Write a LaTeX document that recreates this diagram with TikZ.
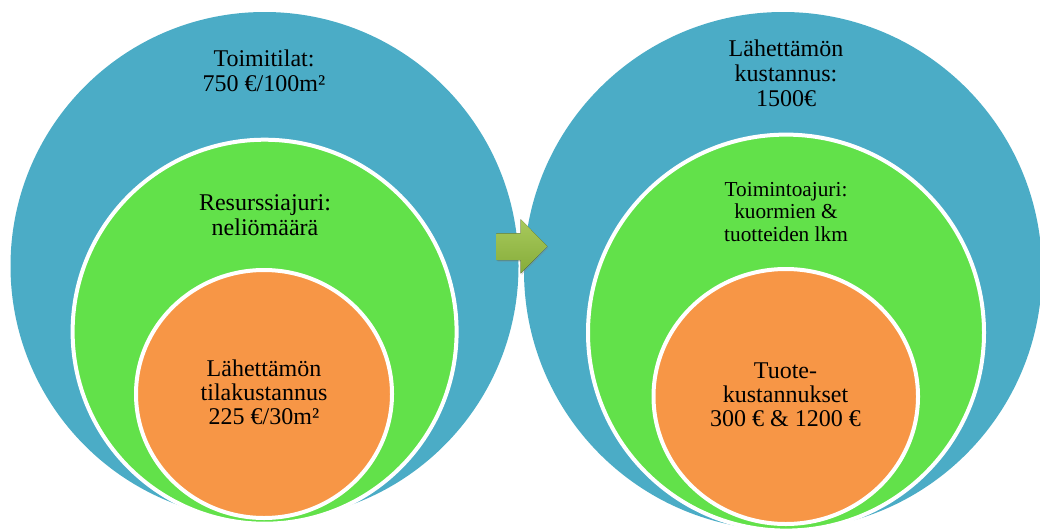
\documentclass[tikz,border=0pt]{standalone}
\usepackage{fontspec}
\setmainfont{Liberation Serif}
\usetikzlibrary{shapes.geometric,shadows}
\definecolor{cblue}{RGB}{75,172,198}
\definecolor{cgreen}{RGB}{98,225,74}
\definecolor{corange}{RGB}{247,150,70}
\definecolor{arrowtop}{RGB}{168,202,92}
\definecolor{arrowbot}{RGB}{134,172,58}
\begin{document}
\begin{tikzpicture}[x=1pt,y=-1pt,
  outerc/.style={circle, fill=cblue, inner sep=0pt, outer sep=0pt},
  midc/.style={circle, fill=cgreen, draw=white, line width=4pt, inner sep=0pt},
  innerc/.style={ellipse, fill=corange, draw=white, line width=4pt, inner sep=0pt},
  lbl/.style={align=center, inner sep=0pt, font=\fontsize{24}{25}\selectfont, text=black},
  lbltight/.style={lbl, font=\fontsize{24}{24.1}\selectfont},
  lblsmall/.style={lbl, font=\fontsize{21.3}{22.4}\selectfont}
]
\useasboundingbox (0,0) rectangle (1040,530);
\clip (0,0) rectangle (1040,530);
% left stack
\node[outerc, minimum size=508pt] (blueL) at (264.5,266) {};
\node[midc, minimum size=384pt] (greenL) at (264.6,331.7) {};
\node[innerc, minimum width=256pt, minimum height=248pt] (orangeL) at (264,394) {};
% right stack
\node[outerc, minimum size=518pt] (blueR) at (783,271) {};
\node[midc, minimum size=396pt] (greenR) at (786,332.6) {};
\node[innerc, minimum width=264.5pt, minimum height=255pt] (orangeR) at (785.75,396.5) {};
% arrow
\fill[top color=arrowtop, bottom color=arrowbot,
      drop shadow={opacity=0.35, shadow xshift=1pt, shadow yshift=-1.5pt}]
  (496.7,233.3) -- (520.7,233.3) -- (520.7,219.3) -- (547.3,246.3)
  -- (520.7,273.3) -- (520.7,260) -- (496.7,260) -- cycle;
% labels
\node[lbl] (tBlueL) at (264,71.1) {Toimitilat:\\750 €/100m²};
\node[lbl] (tGreenL) at (265,215.5) {Resurssiajuri:\\neliömäärä};
\node[lbltight] (tOrangeL) at (264,392.4) {Lähettämön\\tilakustannus\\225 €/30m²};
\node[lbl] (tBlueR) at (786,73.5) {Lähettämön\\kustannus:\\1500€};
\node[lblsmall] (tGreenR) at (786,211.8) {Toimintoajuri:\\kuormien \&\\tuotteiden lkm};
\node[lbltight] (tOrangeR) at (785.5,394.7) {Tuote-\\kustannukset\\300 € \& 1200 €};
\end{tikzpicture}
\end{document}
